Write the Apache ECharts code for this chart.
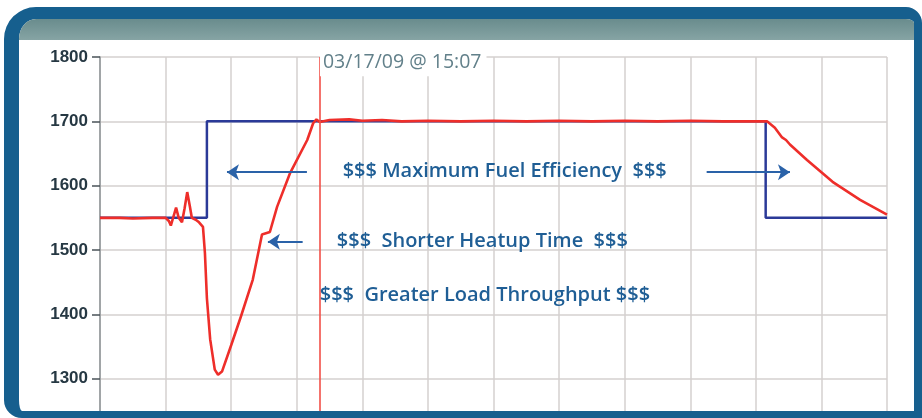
<!DOCTYPE html>
<html>
<head>
<meta charset="utf-8">
<script src="https://cdn.jsdelivr.net/npm/echarts@6/dist/echarts.min.js"></script>
<style>
  html, body { margin: 0; padding: 0; width: 922px; height: 418px; overflow: hidden; background: #fff; }
  #chart { position: absolute; left: 0; top: 0; width: 922px; height: 460px; }
  #frame {
    position: absolute; left: 4px; top: 7px; width: 918px; height: 411px;
    box-sizing: border-box; border-style: solid; border-color: #165f8e;
    border-width: 12px 8px 7px 15px; border-radius: 32px 16px 0 18px;
    overflow: hidden; pointer-events: none;
  }
  #frame .header { position: absolute; left: 0; top: 0; right: 0; height: 21px; background: linear-gradient(#698c8d, #86a4a4); }
</style>
</head>
<body>
<div id="chart"></div>
<div id="frame"><div class="header"></div></div>
<script>
// step set-point (blue)
const blueX = [0, 1.63, 1.63, 10.15, 10.15, 12];
const blueY = [1550, 1550, 1700, 1700, 1550, 1550];

// measured temperature (red)
const redX = [0, 0.3, 0.5, 0.8, 1.0, 1.05, 1.08, 1.12, 1.16, 1.2, 1.25, 1.29, 1.33, 1.37, 1.4, 1.46, 1.51, 1.57,
  1.6, 1.63, 1.68, 1.75, 1.8, 1.86, 2.0, 2.15, 2.33, 2.47, 2.59, 2.7, 2.9, 3.16, 3.25, 3.3, 3.35, 3.5, 3.8,
  4.0, 4.3, 4.6, 5.0, 5.5, 6.0, 6.5, 7.0, 7.5, 8.0, 8.5, 9.0, 9.5, 10.0, 10.17, 10.29, 10.4, 10.46, 10.52,
  10.78, 11.17, 11.59, 12];
const redY = [1550, 1550, 1549, 1550, 1550, 1545, 1538, 1552, 1566, 1550, 1543, 1565, 1590, 1568, 1550, 1547, 1543, 1536,
  1495, 1425, 1361, 1314, 1306, 1311, 1352, 1397, 1454, 1524, 1528, 1567, 1620, 1671, 1697, 1703, 1699, 1702, 1703,
  1701, 1702, 1700, 1701, 1700, 1701, 1700, 1701, 1700, 1701, 1700, 1701, 1700, 1700, 1700, 1690, 1675, 1671, 1664,
  1640, 1606, 1578, 1555];

const yTicks = [1300, 1400, 1500, 1600, 1700, 1800];
const markerX = 3.354;
const markerLabel = '03/17/09 @ 15:07';

const noteTexts = ['$$$ Maximum Fuel Efficiency  $$$', '$$$  Shorter Heatup Time  $$$', '$$$  Greater Load Throughput $$$'];
const noteAt = [[3.70, 1623], [3.61, 1513], [3.35, 1429]];
const arrowFrom = [[3.155, 1621], [9.25, 1621], [3.09, 1513]];
const arrowTo = [[1.936, 1621], [10.52, 1621], [2.56, 1513]];

const chart = echarts.init(document.getElementById('chart'));

const noteColor = '#1f5e95';
const notePoints = noteTexts.map((t, i) => ({ name: t, coord: noteAt[i] }));
notePoints.push({
  name: markerLabel,
  coord: [markerX, 1791],
  label: { color: '#62808a', backgroundColor: '#fff', padding: [4, 5, 3, 3], fontSize: 19.5, fontWeight: 'normal', fontFamily: 'Open Sans' }
});

const option = {
  animation: false,
  backgroundColor: '#fff',
  grid: { left: 100, right: 35, top: 57, bottom: 17 },
  xAxis: {
    type: 'value', min: 0, max: 12, interval: 1,
    axisLine: { show: false }, axisTick: { show: false }, axisLabel: { show: false },
    splitLine: { lineStyle: { color: '#d4d0cf', width: 1.5 } }
  },
  yAxis: {
    type: 'value', min: 1200, max: 1800, interval: 100,
    axisLine: { show: true, lineStyle: { color: '#8d9396', width: 1.5 } },
    axisTick: { show: true, length: 8, lineStyle: { color: '#4a5358', width: 1.5 } },
    axisLabel: {
      margin: 12, color: '#263843', fontSize: 17, fontWeight: 'bold', fontFamily: 'Liberation Sans',
      formatter: v => (yTicks.indexOf(v) >= 0 ? String(v) : '')
    },
    splitLine: { lineStyle: { color: '#d4d0cf', width: 1.5 } }
  },
  series: [
    {
      name: 'setpoint', type: 'line', showSymbol: false,
      data: blueX.map((x, i) => [x, blueY[i]]),
      lineStyle: { color: '#2b3a98', width: 2.5 },
      markLine: {
        silent: true, symbol: ['none', 'arrow'], symbolSize: 12,
        lineStyle: { color: '#2a62a8', width: 2, type: 'solid' },
        label: { show: false },
        data: arrowFrom.map((a, i) => [{ coord: a }, { coord: arrowTo[i] }])
      }
    },
    {
      name: 'temperature', type: 'line', showSymbol: false,
      data: redX.map((x, i) => [x, redY[i]]),
      lineStyle: { color: '#ee2e2a', width: 2.6 },
      markLine: {
        silent: true, symbol: 'none',
        lineStyle: { color: '#f25048', width: 1.6, type: 'solid' },
        label: { show: false },
        data: [{ xAxis: markerX }]
      },
      markPoint: {
        silent: true, symbol: 'rect', symbolSize: 0, z: 8,
        label: {
          show: true, position: 'right', distance: 0,
          color: noteColor, fontSize: 20, fontWeight: 600, fontFamily: 'Open Sans',
          formatter: p => p.name
        },
        data: notePoints
      }
    }
  ]
};

chart.setOption(option);
</script>
</body>
</html>
